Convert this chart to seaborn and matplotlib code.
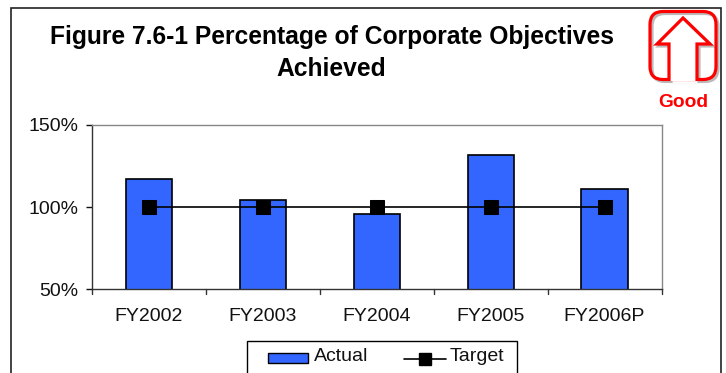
import matplotlib
matplotlib.use("Agg")
import matplotlib.pyplot as plt
import seaborn as sns
import pandas as pd
from matplotlib.patches import Rectangle, FancyBboxPatch, Polygon
from matplotlib.ticker import FuncFormatter

categories = ["FY2002", "FY2003", "FY2004", "FY2005", "FY2006P"]
actual = [117, 104, 96, 132, 111]
target = [100, 100, 100, 100, 100]
title = "Figure 7.6-1 Percentage of Corporate Objectives\nAchieved"

W, H = 726, 373
sns.set_theme(style="white")
plt.rcParams["font.family"] = ["Liberation Sans", "DejaVu Sans"]

fig = plt.figure(figsize=(W / 100, H / 100), dpi=100, facecolor="white")
ax = fig.add_axes([92 / W, 1 - 289 / H, 569.5 / W, 164 / H])
df = pd.DataFrame({"cat": categories, "actual": actual, "target": target})

sns.barplot(data=df, x="cat", y="actual", ax=ax, color="#3366FF", saturation=1,
            width=0.405, edgecolor="black", linewidth=1.2, zorder=2)
sns.lineplot(data=df, x="cat", y="target", ax=ax, color="black", linewidth=1.2,
             marker="s", markersize=10, markerfacecolor="black",
             markeredgecolor="black", zorder=3, errorbar=None)

ax.set_xlim(-0.5, 4.5)
ax.set_ylim(50, 150)
ax.set_yticks([50, 100, 150])
ax.yaxis.set_major_formatter(FuncFormatter(lambda v, _: f"{v:.0f}%"))
ax.set_xlabel("")
ax.set_ylabel("")
ax.set_xticks(range(5))
ax.set_xticklabels(categories)
ax.tick_params(axis="x", length=0, labelsize=14, pad=14, colors="#111111")
ax.tick_params(axis="y", left=True, length=4.3, width=1, labelsize=14, pad=5.7,
               colors="#111111")
for x in [-0.5, 0.5, 1.5, 2.5, 3.5, 4.5]:
    ax.plot([x, x], [50, 47], color="#333333", lw=1, clip_on=False, zorder=1)
for name, spine in ax.spines.items():
    spine.set_visible(True)
    spine.set_color("#333333" if name in ("left", "bottom") else "#888888")
    spine.set_linewidth(1)

# overlay in pixel coordinates for the frame, title, legend and icon
ov = fig.add_axes([0, 0, 1, 1], facecolor="none")
ov.set_xlim(0, W)
ov.set_ylim(H, 0)
ov.axis("off")

ov.text(331.5, 53, title, ha="center", va="center", fontsize=17.7,
        fontweight="bold", color="black", linespacing=1.42)

ov.plot([10.5, 10.5, 720.5, 720.5], [H + 2, 7.5, 7.5, H + 2], color="#222222",
        lw=1.2, solid_joinstyle="miter")

# legend box
ov.add_patch(Rectangle((247, 341), 270, 40, facecolor="white",
                       edgecolor="black", lw=1))
ov.add_patch(Rectangle((268, 352.5), 40, 10.5, facecolor="#3366FF",
                       edgecolor="black", lw=1))
ov.text(314, 356.5, "Actual", fontsize=14, va="center", color="#111111")
ov.plot([404, 446], [358.5, 358.5], color="black", lw=1.2)
ov.plot([424.5], [358.5], color="black", marker="s", markersize=8.5, lw=0)
ov.text(450, 356.5, "Target", fontsize=14, va="center", color="#111111")


# "Good" icon
def icon(dx, dy, color, zo):
    ov.add_patch(FancyBboxPatch((650 + dx, 11.5 + dy), 66, 68,
                                boxstyle="round,pad=0,rounding_size=13",
                                facecolor="none", edgecolor=color, lw=2.3,
                                zorder=zo))
    ov.add_patch(Polygon([(669 + dx, 81 + dy), (669 + dx, 44 + dy), (657 + dx, 44 + dy),
                          (683 + dx, 18 + dy), (710 + dx, 44 + dy), (697 + dx, 44 + dy),
                          (697 + dx, 81 + dy)],
                         closed=False, facecolor="white", edgecolor=color, lw=2.3,
                         zorder=zo + 0.5, joinstyle="miter"))


icon(2, 2, "#BBBBBB", 5)
icon(0, 0, "#FF0000", 6)
ov.text(683.5, 102.5, "Good", ha="center", va="center", fontsize=13.8,
        fontweight="bold", color="#FF0000", zorder=7)

fig.savefig("out.png", dpi=100)
